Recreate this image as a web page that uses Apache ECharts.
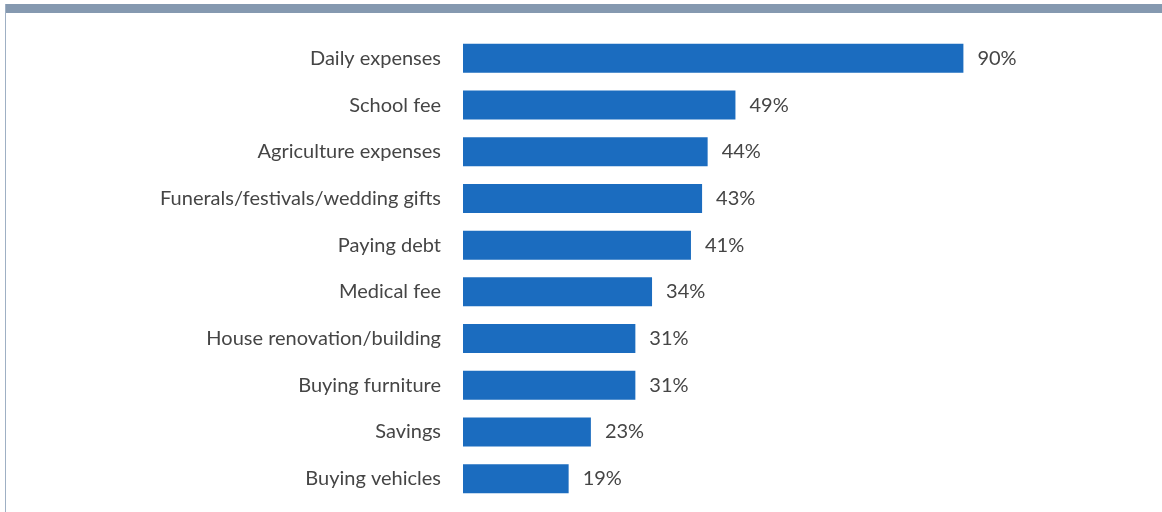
<!DOCTYPE html>
<html>
<head>
<meta charset="utf-8">
<script src="https://cdn.jsdelivr.net/npm/echarts@6/dist/echarts.min.js"></script>
<style>
  html, body { margin: 0; padding: 0; background: #fff; }
  #frame { position: absolute; left: 0; top: 0; width: 1162px; height: 512px; }
  #topbar { position: absolute; left: 5px; top: 4px; width: 1157px; height: 9px; background: #8599b0; }
  #leftline { position: absolute; left: 5px; top: 4px; width: 1px; height: 508px; background: #9fb0c4; }
  #chart { position: absolute; left: 0; top: 0; width: 1162px; height: 512px; }
</style>
</head>
<body>
<div id="frame">
  <div id="chart"></div>
  <div id="topbar"></div>
  <div id="leftline"></div>
</div>
<script>
// Uses of money, share of respondents (%)
const categories = [
  'Daily expenses',
  'School fee',
  'Agriculture expenses',
  'Funerals/festivals/wedding gifts',
  'Paying debt',
  'Medical fee',
  'House renovation/building',
  'Buying furniture',
  'Savings',
  'Buying vehicles'
];
const values = [90, 49, 44, 43, 41, 34, 31, 31, 23, 19];

const font = 'Lato';
const chart = echarts.init(document.getElementById('chart'), null, { renderer: 'canvas' });
chart.setOption({
  animation: false,
  grid: { left: 463, top: 35, width: 556, height: 467, containLabel: false },
  xAxis: {
    type: 'value', min: 0, max: 100,
    show: false
  },
  yAxis: {
    type: 'category',
    inverse: true,
    data: categories,
    axisLine: { show: false },
    axisTick: { show: false },
    splitLine: { show: false },
    axisLabel: { color: '#454545', fontFamily: font, fontSize: 20, margin: 22 }
  },
  series: [{
    type: 'bar',
    data: values,
    barWidth: 29,
    itemStyle: { color: '#1b6cbf' },
    label: {
      show: true, position: 'right', distance: 14,
      formatter: p => p.value + '%',
      color: '#454545', fontFamily: font, fontSize: 20
    }
  }]
});
</script>
</body>
</html>
